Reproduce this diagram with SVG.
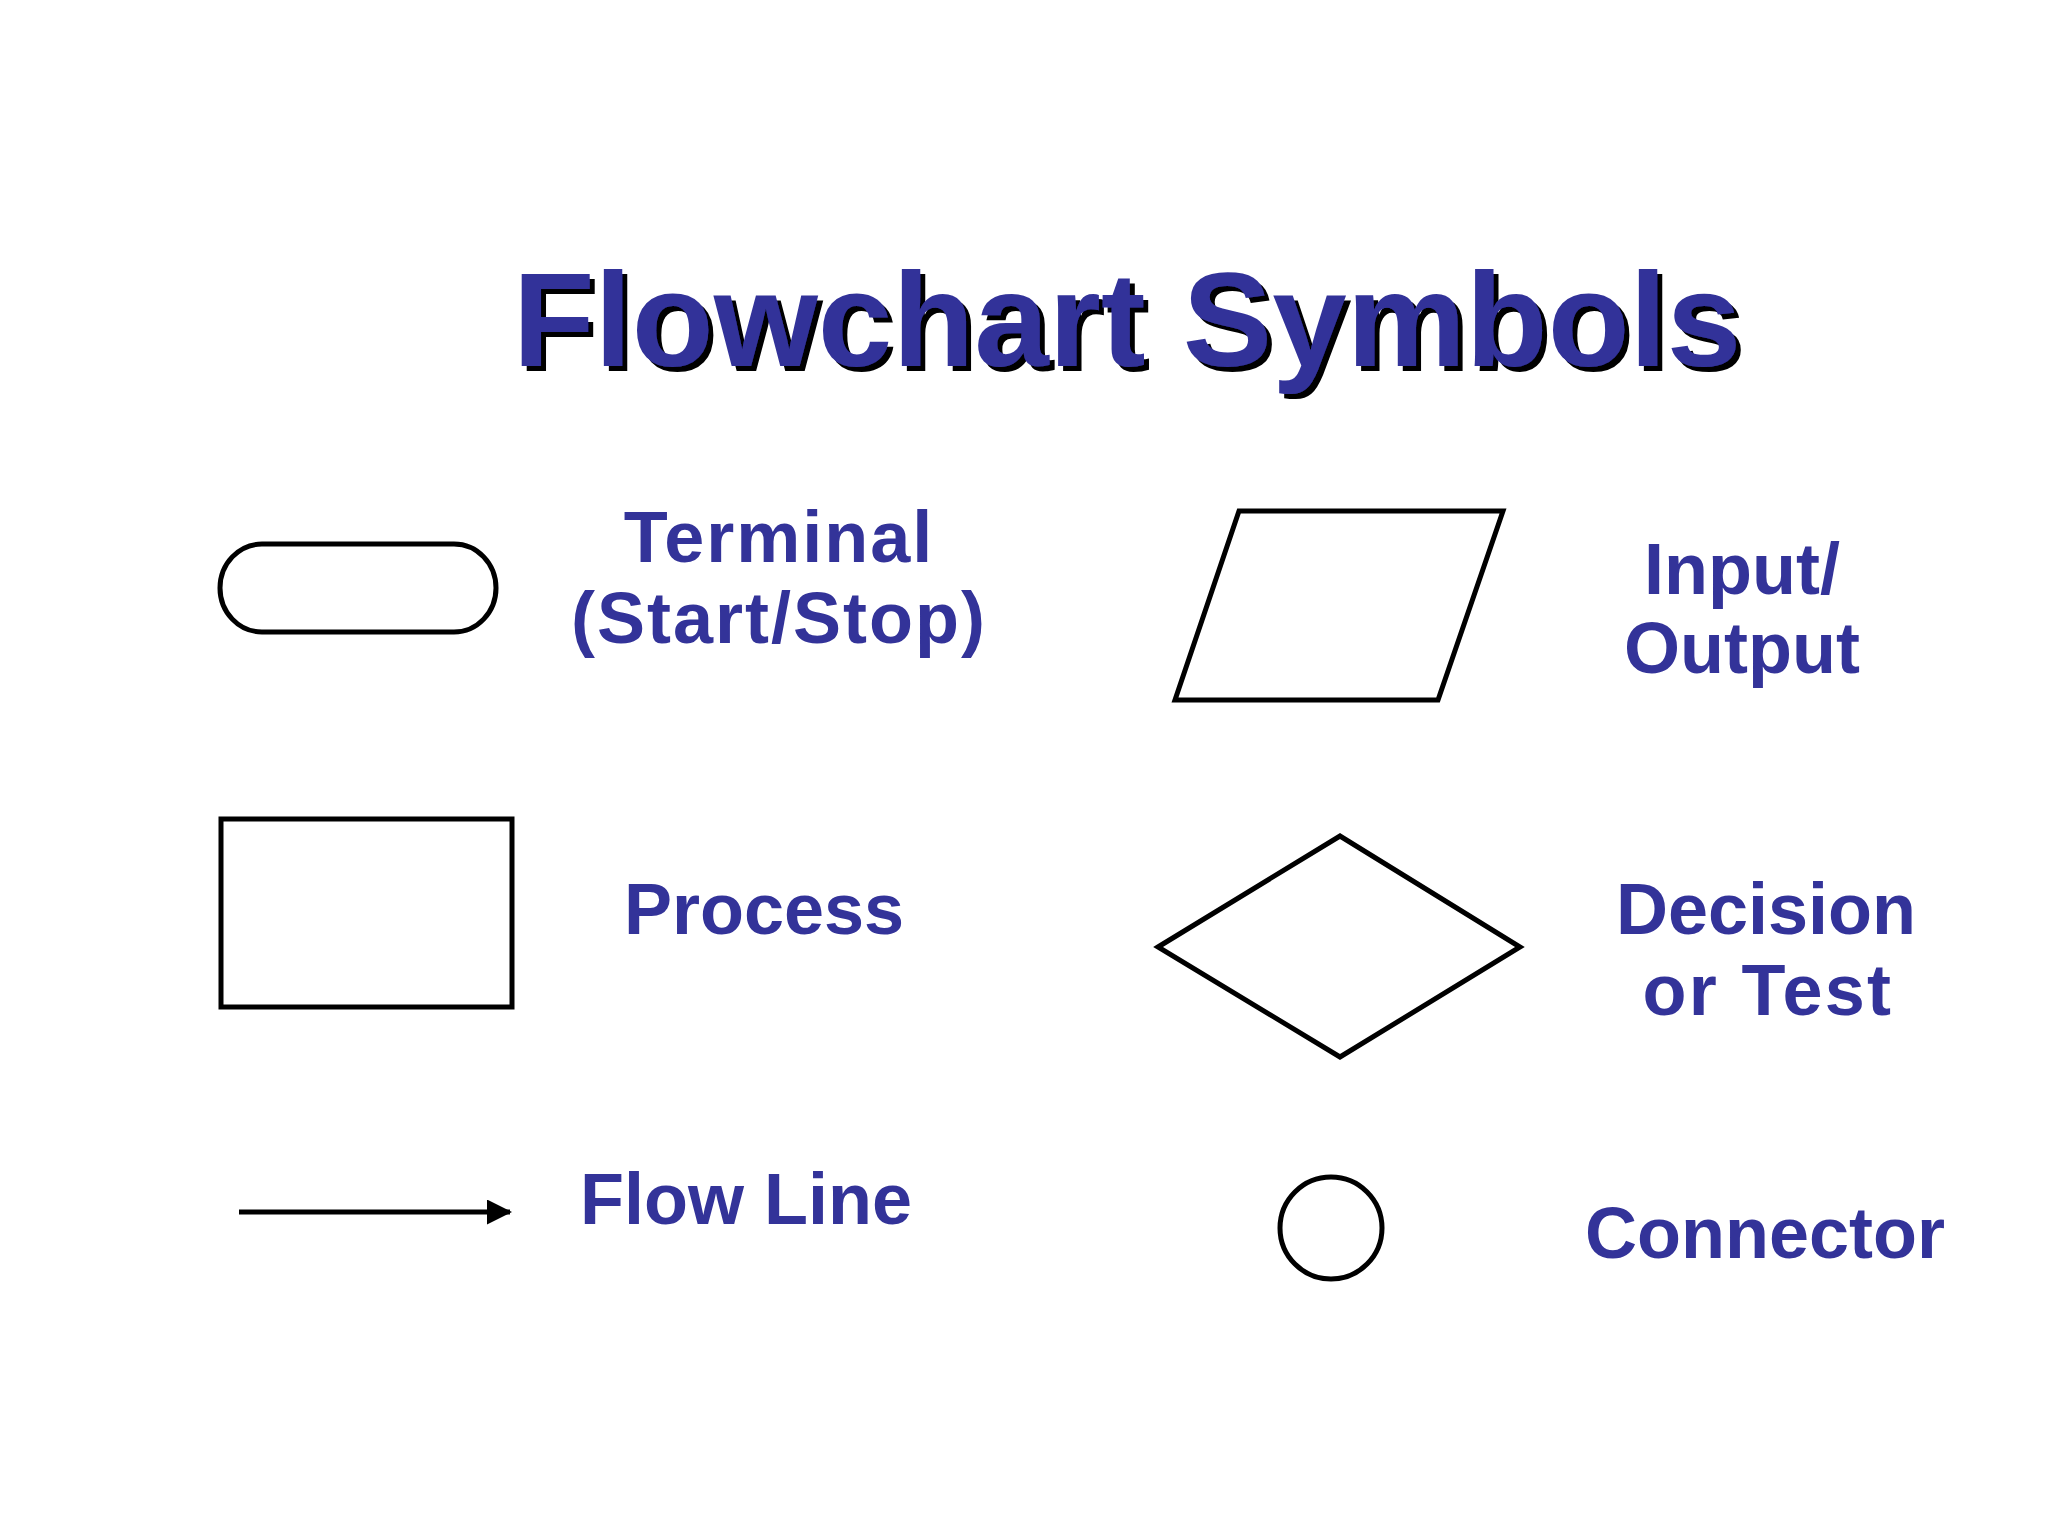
<svg xmlns="http://www.w3.org/2000/svg" width="2048" height="1536" viewBox="0 0 2048 1536">
<style>
.shape{fill:#ffffff;stroke:#000000;stroke-width:5;stroke-linejoin:miter}
.lbl{font-family:"Liberation Sans",Arial,sans-serif;font-weight:bold;font-size:72px;fill:#333399;text-anchor:middle}
.title{font-family:"Liberation Sans",Arial,sans-serif;font-weight:bold;font-size:134px;text-anchor:middle;fill:#333399}
.flow{stroke:#000000;stroke-width:5;fill:none}
</style>
<defs>
<filter id="shadow" x="-5%" y="-20%" width="110%" height="140%">
<feOffset in="SourceAlpha" dx="5" dy="5" result="off"/>
<feFlood flood-color="#000000"/>
<feComposite in2="off" operator="in" result="sh"/>
<feMerge><feMergeNode in="sh"/><feMergeNode in="SourceGraphic"/></feMerge>
</filter>
<marker id="arrow" markerWidth="5" markerHeight="5" refX="4.6" refY="2.5" orient="auto" markerUnits="strokeWidth">
<path d="M0,0 L5,2.5 L0,5 Z" fill="#000000"/>
</marker>
</defs>
<rect width="2048" height="1536" fill="#ffffff"/>
<g id="title">
<text class="title" x="1127" y="366" filter="url(#shadow)">Flowchart Symbols</text>
</g>
<g id="terminal">
<rect class="shape" x="220" y="544" width="276" height="88" rx="42" ry="44"/>
<text class="lbl" x="779" y="562" letter-spacing="2">Terminal</text>
<text class="lbl" x="779" y="643" letter-spacing="2">(Start/Stop)</text>
</g>
<g id="io">
<polygon class="shape" points="1239,511 1503,511 1438,700 1175,700"/>
<text class="lbl" x="1742" y="594">Input/</text>
<text class="lbl" x="1742" y="673">Output</text>
</g>
<g id="process">
<rect class="shape" x="221" y="819" width="291" height="188"/>
<text class="lbl" x="764" y="934">Process</text>
</g>
<g id="decision">
<polygon class="shape" points="1158,947 1340,836 1520,947 1340,1057"/>
<text class="lbl" x="1766" y="934">Decision</text>
<text class="lbl" x="1768" y="1015" letter-spacing="2.3">or Test</text>
</g>
<g id="flowline">
<text class="lbl" x="746" y="1224">Flow Line</text>
</g>
<g id="connector">
<circle class="shape" cx="1331" cy="1228" r="51"/>
<text class="lbl" x="1765" y="1258">Connector</text>
</g>
<g id="connectors">
<line class="flow" x1="239" y1="1212" x2="510" y2="1212" marker-end="url(#arrow)"/>
</g>
</svg>
